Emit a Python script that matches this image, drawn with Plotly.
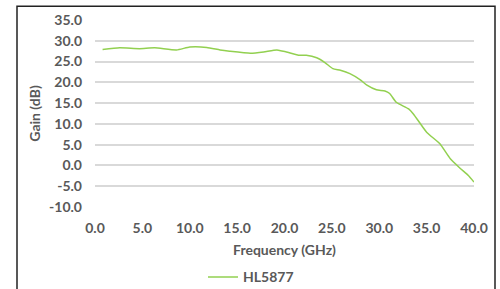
import plotly.graph_objects as go

freq = [0.8, 2.6, 4.7, 6.3, 8.6, 10.0, 11.8, 13.2, 14.2, 16.4, 17.8, 19.2, 20.2, 21.6, 22.3,
        23.4, 24.3, 25.1, 25.9, 26.9, 28.0, 28.7, 29.7, 30.6, 31.1, 31.8, 33.1, 33.6, 35.0,
        36.4, 37.5, 38.5, 39.4, 40.0]
gain = [27.9, 28.3, 28.1, 28.3, 27.8, 28.5, 28.4, 27.8, 27.5, 27.0, 27.3, 27.8, 27.3, 26.5, 26.5,
        25.9, 24.7, 23.3, 22.9, 22.1, 20.6, 19.3, 18.2, 17.9, 17.3, 15.2, 13.6, 12.4, 8.0,
        5.2, 1.6, -0.6, -2.4, -4.0]

xticks = [0, 5, 10, 15, 20, 25, 30, 35, 40]
yticks = [-10, -5, 0, 5, 10, 15, 20, 25, 30, 35]

fig = go.Figure()
fig.add_trace(go.Scatter(x=freq, y=gain, mode="lines", name="HL5877",
                         line=dict(color="#92D050", width=1.5, shape="spline", smoothing=0.5)))

F = dict(family="Lato", size=14, color="#595959", weight="bold")
fig.update_layout(
    width=500, height=289,
    margin=dict(l=95, r=26, t=20, b=82, autoexpand=False),
    paper_bgcolor="white", plot_bgcolor="white",
    showlegend=True,
    legend=dict(orientation="h", x=(203 - 95) / 379, xanchor="left", y=(206.7 - 277) / 187,
                yanchor="middle", font=F, itemwidth=30, bgcolor="rgba(0,0,0,0)"),
    xaxis=dict(range=[0, 40], tickvals=xticks, ticktext=[f"{v:.1f}" for v in xticks],
               showgrid=False, zeroline=False, showline=False, ticks="", automargin=False,
               tickfont=F, ticklabelstandoff=11,
               title=dict(text="Frequency (GHz)", standoff=10, font=F)),
    yaxis=dict(range=[-10, 35], tickvals=yticks, ticktext=[f"{v:.1f}" for v in yticks],
               showgrid=True, gridcolor="#d9d9d9", gridwidth=1.6, zeroline=False, automargin=False,
               showline=False, ticks="", tickfont=F, ticklabelstandoff=12,
               title=dict(text="Gain (dB)", standoff=5, font=F)),
)
fig.add_shape(type="rect", xref="paper", yref="paper",
              x0=(17 - 95) / 379, x1=(495 - 95) / 379,
              y0=(206.7 - 300) / 187, y1=(206.7 - 6) / 187,
              line=dict(color="#222222", width=1.5), layer="below")
fig.write_html("out.html", config={"displayModeBar": False},
               post_script="document.body.style.margin='0';")
